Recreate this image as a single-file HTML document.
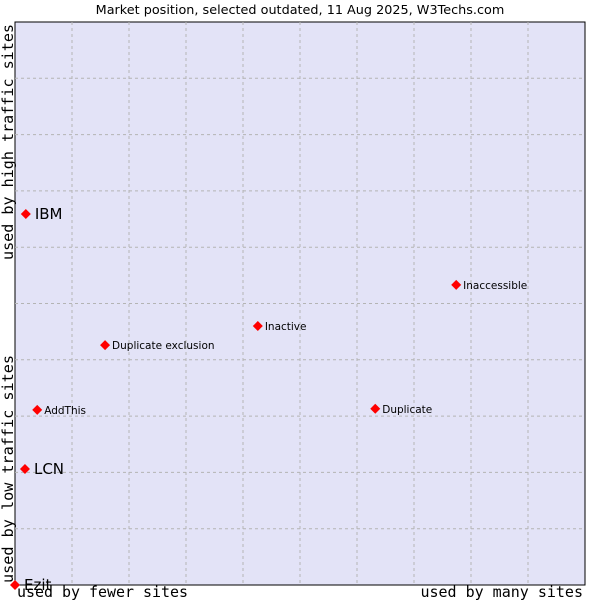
<!DOCTYPE html>
<html><head><meta charset="utf-8"><style>
html,body{margin:0;padding:0;background:#fff;width:600px;height:600px;overflow:hidden}
svg{display:block}
</style></head><body>
<svg id="chart" width="600" height="600" xmlns="http://www.w3.org/2000/svg">
<text x="300" y="14" text-anchor="middle" font-family="DejaVu Sans, sans-serif" font-size="12.8" fill="#000">Market position, selected outdated, 11 Aug 2025, W3Techs.com</text>
<rect x="15" y="22" width="570" height="563" fill="#e3e3f7" stroke="#000" stroke-width="1"/>
<g id="grid"></g>
<g id="points"></g>
<text x="17" y="597" font-family="DejaVu Sans Mono, monospace" font-size="15" textLength="171" lengthAdjust="spacingAndGlyphs" fill="#000">used by fewer sites</text>
<text x="583" y="597" text-anchor="end" font-family="DejaVu Sans Mono, monospace" font-size="15" fill="#000">used by many sites</text>
<text transform="translate(13,583) rotate(-90)" font-family="DejaVu Sans Mono, monospace" font-size="15" textLength="228" lengthAdjust="spacingAndGlyphs" fill="#000">used by low traffic sites</text>
<text transform="translate(13,260) rotate(-90)" font-family="DejaVu Sans Mono, monospace" font-size="15" textLength="236" lengthAdjust="spacingAndGlyphs" fill="#000">used by high traffic sites</text>
</svg>
<script>
const names = ["IBM","LCN","Ezit","AddThis","Duplicate exclusion","Inactive","Duplicate","Inaccessible"];
const xValues = [1.9,1.75,0,3.9,15.8,42.6,63.2,77.4];
const yValues = [65.9,20.6,0,31.1,42.6,46.0,31.3,53.3];
const large = [true,true,true,false,false,false,false,false];
const gridTicks = [10,20,30,40,50,60,70,80,90];
const NS="http://www.w3.org/2000/svg";
const L=15,T=22,W=570,H=563;
const sx=v=>L+v/100*W, sy=v=>T+H-v/100*H;
const grid=document.getElementById('grid');
gridTicks.forEach(t=>{
  const v=document.createElementNS(NS,'line');
  
  
  v.setAttribute('x1',sx(t));v.setAttribute('x2',sx(t));v.setAttribute('y1',T);v.setAttribute('y2',T+H);
  v.setAttribute('stroke','#b4b4b4');v.setAttribute('stroke-dasharray','3,3');
  grid.appendChild(v);
  const h=document.createElementNS(NS,'line');
  
  
  h.setAttribute('x1',L);h.setAttribute('x2',L+W);h.setAttribute('y1',sy(t));h.setAttribute('y2',sy(t));
  h.setAttribute('stroke','#b4b4b4');h.setAttribute('stroke-dasharray','3,3');
  grid.appendChild(h);
});
const pts=document.getElementById('points');
names.forEach((n,i)=>{
  const x=sx(xValues[i]),y=sy(yValues[i]);
  const d=document.createElementNS(NS,'path');
  
  
  d.setAttribute('d',`M${x},${y-5}L${x+5},${y}L${x},${y+5}L${x-5},${y}Z`);
  d.setAttribute('fill','#f00');
  pts.appendChild(d);
  const t=document.createElementNS(NS,'text');
  
  
  t.setAttribute('x',x+(large[i]?9:7));
  t.setAttribute('y',y+(large[i]?5:4));
  t.setAttribute('font-family','DejaVu Sans, sans-serif');
  t.setAttribute('font-size',large[i]?15:10.5);
  t.setAttribute('fill','#000');
  t.textContent=n;
  pts.appendChild(t);
});
</script>
</body></html>
